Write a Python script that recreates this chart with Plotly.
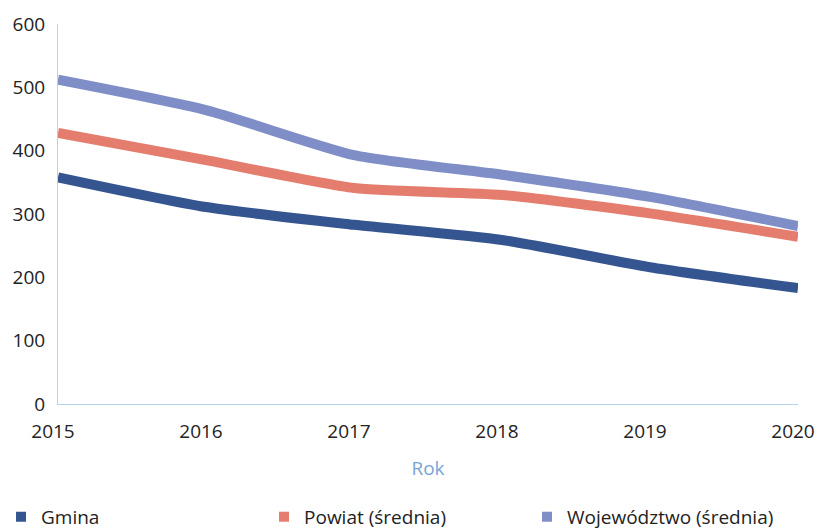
import plotly.graph_objects as go

years = [2015, 2016, 2017, 2018, 2019, 2020]
gmina = [358, 311, 283, 259, 216, 183]
powiat = [428, 385, 341, 330, 301, 264]
wojewodztwo = [512, 464, 393, 362, 327, 281]

names = ["Gmina", "Powiat (średnia)", "Województwo (średnia)"]
colors = ["#34558f", "#e47d6e", "#7f8ec6"]
series = [gmina, powiat, wojewodztwo]

fig = go.Figure()
for name, col, vals in zip(names, colors, series):
    fig.add_trace(go.Scatter(x=years, y=vals, mode="lines", name=name,
                             line=dict(color=col, width=10, shape="spline", smoothing=0.6),
                             showlegend=False))
for name, col in zip(names, colors):
    fig.add_trace(go.Scatter(x=[None], y=[None], mode="markers", name=name,
                             marker=dict(color=col, symbol="square", size=10)))

fig.update_layout(
    width=818, height=531,
    margin=dict(l=58, r=20, t=24, b=127, autoexpand=False),
    paper_bgcolor="white", plot_bgcolor="white",
    font=dict(family="Open Sans", size=19, color="#222"),
    showlegend=True,
    legend=dict(orientation="h", x=-0.077, y=-0.247, xanchor="left", yanchor="top",
                entrywidth=218, entrywidthmode="pixels",
                font=dict(size=19, color="#222"), itemwidth=30,
                tracegroupgap=0),
    xaxis=dict(range=[2015, 2020], tickvals=years, ticktext=[str(y) for y in years],
               showgrid=False, zeroline=False, showline=True, linecolor="#b5d3ea",
               linewidth=1, ticks="", tickfont=dict(size=19), ticklabelshift=-5,
               ticklabelstandoff=10,
               title=dict(text="Rok", font=dict(color="#7aa3d6", size=19), standoff=18)),
    yaxis=dict(range=[0, 600], tickvals=[0, 100, 200, 300, 400, 500, 600],
               showgrid=False, zeroline=False, showline=True, linecolor="#b5d3ea",
               linewidth=1, ticks="", tickfont=dict(size=19), ticklabelstandoff=8),
)

fig.write_html("out.html", config={"displayModeBar": False},
               post_script="document.body.style.margin='0';")
